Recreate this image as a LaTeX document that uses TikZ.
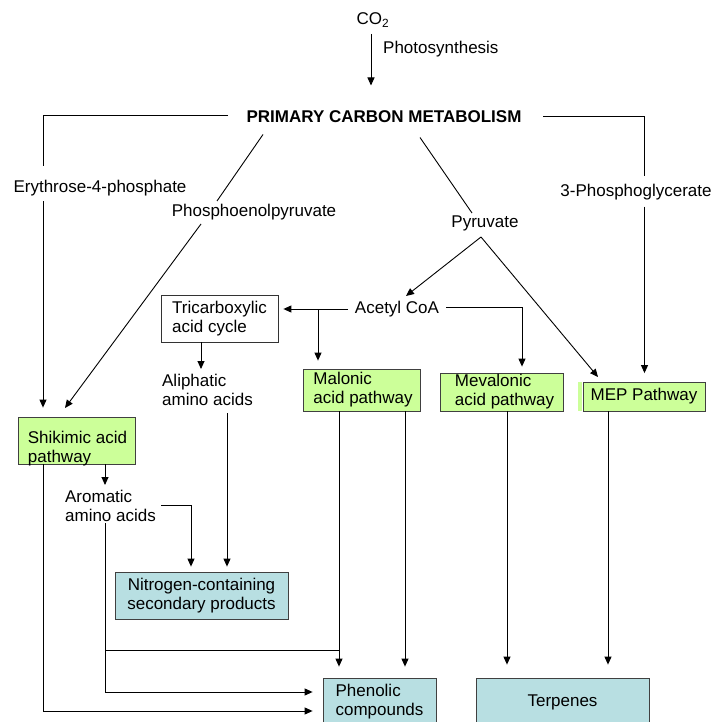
\documentclass[tikz,border=0pt]{standalone}
\usepackage{fontspec}
\setmainfont{Liberation Sans}
\usetikzlibrary{arrows.meta,positioning}
\definecolor{pathgreen}{RGB}{204,255,153}
\definecolor{prodblue}{RGB}{184,223,226}

\begin{document}
\begin{tikzpicture}[
    x=1pt, y=-1pt,
    font=\fontsize{17}{19}\selectfont,
    every node/.style={inner sep=0pt},
    head/.style={font=\fontsize{17}{19}\selectfont\bfseries},
    lbl/.style={align=left},
    tcabox/.style={rectangle, draw=black!80, fill=white, line width=0.8pt, align=left,
                   minimum width=117pt, minimum height=47pt},
    pathway/.style={rectangle, draw=black!75, fill=pathgreen, line width=0.8pt, align=left,
                    minimum width=117pt},
    product/.style={rectangle, draw=black!75, fill=prodblue, line width=0.8pt, align=left},
    line/.style={line width=0.9pt},
    arrow/.style={line, -{Triangle[length=8pt,width=7pt]}}
]
\path[use as bounding box] (0,0) rectangle (715,722);
\clip (0,0) rectangle (715,722);

%% ── Top: CO2 and primary metabolism ─────────────────────────────
\node (co2) at (373,20) {CO\textsubscript{2}};
\node[anchor=west] (photo) at (383,49) {Photosynthesis};
\node[head] (prim) at (384,116.5) {PRIMARY CARBON METABOLISM};

%% ── Precursors ──────────────────────────────────────────────────
\node (ery)  at (100,188)   {Erythrose-4-phosphate};
\node (pep)  at (254,212)   {Phosphoenolpyruvate};
\node (pyr)  at (485,223)   {Pyruvate};
\node (pga)  at (636,192.5) {3-Phosphoglycerate};
\node (acoa) at (397,309)   {Acetyl CoA};

%% ── Pathways ────────────────────────────────────────────────────
\node[tcabox] (tca) at (219.5,318.5) {Tricarboxylic\\acid cycle};
\node[lbl] (ali) at (207.5,390) {Aliphatic\\amino acids};
\node[pathway, minimum height=42pt] (mal) at (361.5,390)
    {\hspace*{3pt}Malonic\\\hspace*{3pt}acid pathway};
\node[pathway, minimum width=123pt, minimum height=38pt] (mev) at (501.5,392)
    {\hspace*{6pt}Mevalonic\\\hspace*{6pt}acid pathway};
\node[pathway, minimum width=122pt, minimum height=29pt] (mep) at (644,396.5) {MEP Pathway};
\fill[pathgreen] ([xshift=-5pt]mep.south west) rectangle ([xshift=-0.5pt]mep.north west);
\node[pathway, minimum height=47pt] (shik) at (76.5,440.5)
    {\raisebox{-9pt}[\height][\depth]{\begin{tabular}{@{}l@{}}\hspace*{2pt}Shikimic acid\\
     \hspace*{2pt}pathway\end{tabular}}};
\node[lbl] (aro) at (110.5,506) {Aromatic\\amino acids};

%% ── Products ────────────────────────────────────────────────────
\node[product, align=center, minimum width=173pt, minimum height=47pt] (nit) at (201.5,595.5)
    {Nitrogen-containing\\secondary products};
\node[product, minimum width=113pt, minimum height=48pt] (phen) at (379.5,702)
    {Phenolic\\compounds};
\node[product, minimum width=173pt, minimum height=48pt] (terp) at (562.5,702) {Terpenes};

%% ── Arrows from primary metabolism ──────────────────────────────
\draw[arrow] ([xshift=-2pt,yshift=-14pt]co2.center) -- ([xshift=-13pt,yshift=31pt]prim.center);
\draw[line]  ([xshift=-156pt,yshift=1pt]prim.center) -| ([xshift=-57pt,yshift=22pt]ery.center);
\draw[arrow] ([xshift=-57pt,yshift=-13pt]ery.center) -- ([xshift=-33.5pt,yshift=9pt]shik.north);
\draw[line]  ([xshift=-121pt,yshift=-18pt]prim.center) -- ([xshift=-37pt,yshift=11pt]pep.center);
\draw[arrow] ([xshift=-53pt,yshift=-12pt]pep.center) -- ([xshift=-11.5pt,yshift=32.5pt]shik.center);
\draw[line]  ([xshift=36pt,yshift=-21pt]prim.center) -- ([xshift=-13pt,yshift=10pt]pyr.center);
\draw[line]  ([xshift=159pt]prim.center) -| ([xshift=8.5pt,yshift=16pt]pga.center);
\draw[arrow] ([xshift=8.5pt,yshift=-14pt]pga.center) -- ([xshift=0.5pt,yshift=8.5pt]mep.north);

%% ── Pyruvate and Acetyl CoA ─────────────────────────────────────
\draw[arrow] ([xshift=-4pt,yshift=-14pt]pyr.center) -- ([xshift=9pt,yshift=13pt]acoa.center);
\draw[arrow] ([xshift=-4pt,yshift=-14pt]pyr.center) -- ([xshift=-46pt,yshift=19.5pt]mep.center);
\draw[arrow] ([xshift=-49pt]acoa.center) -- ([xshift=5pt,yshift=9.5pt]tca.east);
\draw[arrow] ([xshift=-79pt]acoa.center) -- ([xshift=-43.5pt,yshift=8pt]mal.north);
\draw[arrow] ([xshift=49pt,yshift=2pt]acoa.center) -| ([xshift=20.5pt,yshift=6pt]mev.north);

%% ── Amino acids ─────────────────────────────────────────────────
\draw[arrow] ([xshift=-18.5pt]tca.south) -- ([xshift=-6.5pt,yshift=21pt]ali.center);
\draw[arrow] ([xshift=19.5pt,yshift=-23pt]ali.center) -- ([xshift=25.5pt,yshift=5pt]nit.north);
\draw[arrow] ([xshift=28.5pt]shik.south) -- ([xshift=-5.5pt,yshift=21pt]aro.center);
\draw[arrow] ([xshift=50.5pt,yshift=1pt]aro.center) -| ([xshift=-10.5pt,yshift=5pt]nit.north);

%% ── Down to the products ────────────────────────────────────────
\draw[arrow] ([xshift=-5.5pt,yshift=-17pt]aro.center) |- ([xshift=-10pt,yshift=10pt]phen.west);
\draw[line]  ([xshift=-5.5pt,yshift=-144pt]aro.center) -- ([xshift=-22.5pt,yshift=-260pt]mal.center);
\draw[arrow] ([xshift=-22.5pt]mal.south) -- ([xshift=-40.5pt,yshift=11pt]phen.north);
\draw[arrow] ([xshift=43.5pt]mal.south) -- ([xshift=25.5pt,yshift=11pt]phen.north);
\draw[arrow] ([xshift=5.5pt]mev.south) -- ([xshift=-55.5pt,yshift=13pt]terp.north);
\draw[arrow] ([xshift=-36pt]mep.south) -- ([xshift=45.5pt,yshift=13pt]terp.north);
\draw[arrow] ([xshift=-33.5pt]shik.south) |- ([xshift=-10pt,yshift=-9pt]phen.west);

\end{tikzpicture}
\end{document}
